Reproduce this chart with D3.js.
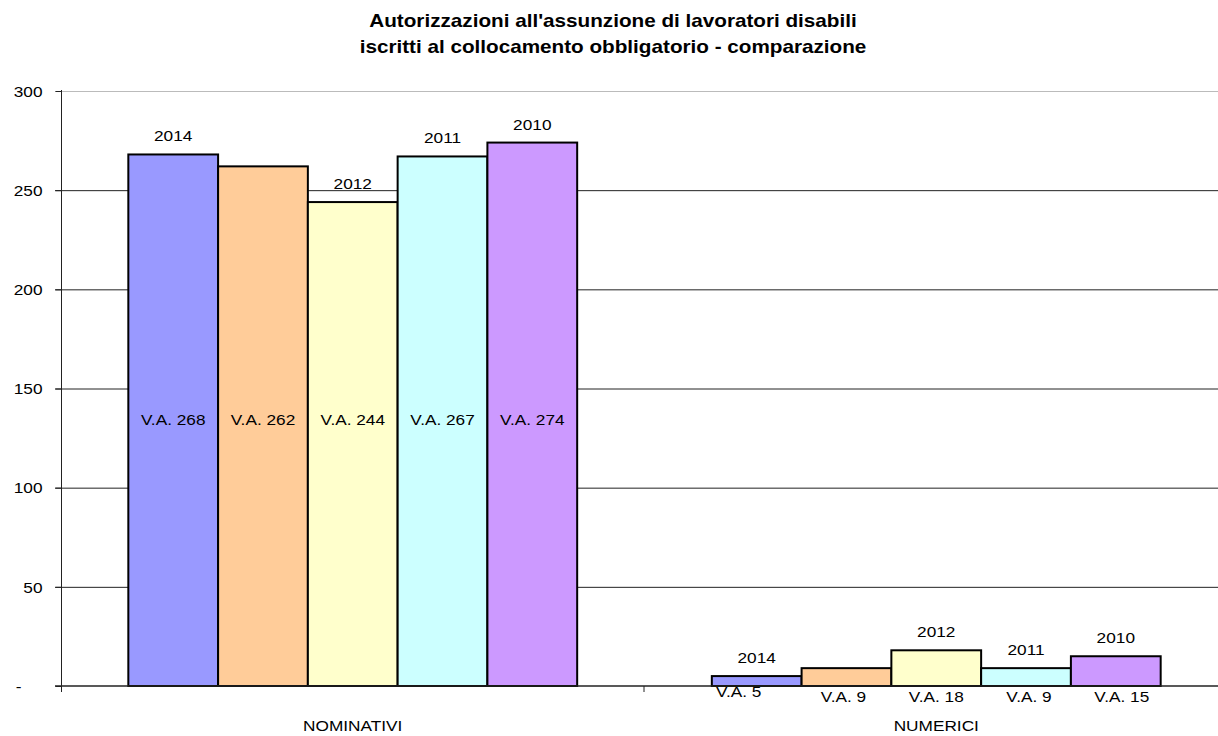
<!DOCTYPE html>
<html><head><meta charset="utf-8">
<script src="https://cdn.jsdelivr.net/npm/d3@7"></script>
<style>body{margin:0;background:#fff}svg{display:block;font-family:Arial,"Liberation Sans",sans-serif}</style>
</head><body><svg id="c" width="1218" height="736"></svg>
<script>
const categories = ["NOMINATIVI", "NUMERICI"];
const seriesNames = ["2014", "2013", "2012", "2011", "2010"];
const yearLabels = ["2014", "", "2012", "2011", "2010"];
const colors = ["#9999FF", "#FFCC99", "#FFFFCC", "#CCFFFF", "#CC99FF"];
const nominativi = [268, 262, 244, 267, 274];
const numerici = [5, 9, 18, 9, 15];
const yTicks = [0, 50, 100, 150, 200, 250, 300];
const yTickLabels = ["-", "50", "100", "150", "200", "250", "300"];
const title = ["Autorizzazioni all'assunzione di lavoratori disabili", "iscritti al collocamento obbligatorio - comparazione"];

const SX = 1.15; // horizontal stretch of the reference text
const values = [nominativi, numerici];
const svg = d3.select("#c");
const x0 = d3.scaleBand().domain(categories).range([61, 1228]).padding(0);
const x1 = d3.scaleBand().domain(seriesNames).range([0, x0.bandwidth()]).paddingInner(0).paddingOuter(0.75);
const y = d3.scaleLinear().domain([0, 300]).range([686, 91]);

function label(sel, x, yy, anchor, size) {
  return sel.attr("transform", (d, i) => `translate(${x(d, i)},${yy(d, i)}) scale(${SX},1)`)
    .attr("text-anchor", anchor).attr("font-size", size).attr("fill", "#000");
}

// title
label(svg.append("g").selectAll("text").data(title).join("text"), () => 613, (d, i) => 27 + i * 26, "middle", 18)
  .attr("font-weight", "bold").text(d => d);

// gridlines
svg.append("g").selectAll("line").data(yTicks.filter(t => t > 0)).join("line")
  .attr("x1", 55).attr("x2", 1218).attr("y1", d => y(d) + 0.5).attr("y2", d => y(d) + 0.5)
  .attr("stroke", d => d === 300 ? "#bbb" : "#222").attr("stroke-width", 1);

// y axis
const yAxis = d3.axisLeft(y).tickValues(yTicks).tickFormat((d, i) => yTickLabels[i]).tickSize(6).tickPadding(0);
const gy = svg.append("g").attr("transform", "translate(61.5,0)").call(yAxis);
gy.select(".domain").remove();
gy.selectAll(".tick line").attr("stroke", "#222");
gy.selectAll(".tick text")
  .attr("x", d => d === 0 ? -40 : -19).attr("dy", "0.35em")
  .attr("transform", `scale(${SX},1)`).attr("transform-origin", d => d === 0 ? "-40 0" : "-19 0")
  .attr("font-size", 15).attr("fill", "#000").attr("font-family", "Arial, 'Liberation Sans', sans-serif");
svg.append("line").attr("x1", 61.5).attr("x2", 61.5).attr("y1", 90).attr("y2", 692).attr("stroke", "#222");

// bars
const groups = svg.append("g").selectAll("g").data(categories).join("g")
  .attr("transform", d => `translate(${x0(d)},0)`);
const rows = (c, ci) => values[ci].map((v, i) => ({v, i, ci}));
groups.selectAll("rect").data(rows).join("rect")
  .attr("x", d => x1(seriesNames[d.i]))
  .attr("width", x1.bandwidth())
  .attr("y", d => y(d.v))
  .attr("height", d => y(0) - y(d.v))
  .attr("fill", d => colors[d.i])
  .attr("stroke", "#000").attr("stroke-width", 2);

// x axis baseline and ticks
svg.append("line").attr("x1", 55).attr("x2", 1218).attr("y1", y(0)).attr("y2", y(0)).attr("stroke", "#222").attr("stroke-width", 1.5);
const xAxis = d3.axisBottom(x0).tickSize(0).tickPadding(0);
const gx = svg.append("g").attr("transform", `translate(0,${y(0)})`).call(xAxis);
gx.select(".domain").remove();
gx.selectAll(".tick text").attr("y", 45).attr("dy", 0)
  .attr("transform", `scale(${SX},1)`).attr("transform-origin", "0 0")
  .attr("font-size", 15).attr("fill", "#000").attr("font-family", "Arial, 'Liberation Sans', sans-serif");
svg.append("g").selectAll("line").data(categories.slice(1)).join("line")
  .attr("x1", d => x0(d) - 0.5).attr("x2", d => x0(d) - 0.5).attr("y1", y(0)).attr("y2", y(0) + 6).attr("stroke", "#222");

// year labels
label(groups.selectAll("text.yr").data(rows).join("text").attr("class", "yr"),
  d => x1(seriesNames[d.i]) + x1.bandwidth() / 2, d => y(d.v) - 13, "middle", 15)
  .text(d => yearLabels[d.i]);

// V.A. labels (small-value group sits below the axis, slightly nudged as in the reference)
const vaNudge = [-18, -3, 0, 3, 6];
label(groups.selectAll("text.va").data(rows).join("text").attr("class", "va"),
  d => x1(seriesNames[d.i]) + x1.bandwidth() / 2 + (d.ci === 1 ? vaNudge[d.i] : 0),
  d => d.ci === 0 ? y(134) + 5 : y(0) + (d.i === 0 ? 11 : 16), "middle", 15)
  .text(d => "V.A. " + d.v);
</script></body></html>
